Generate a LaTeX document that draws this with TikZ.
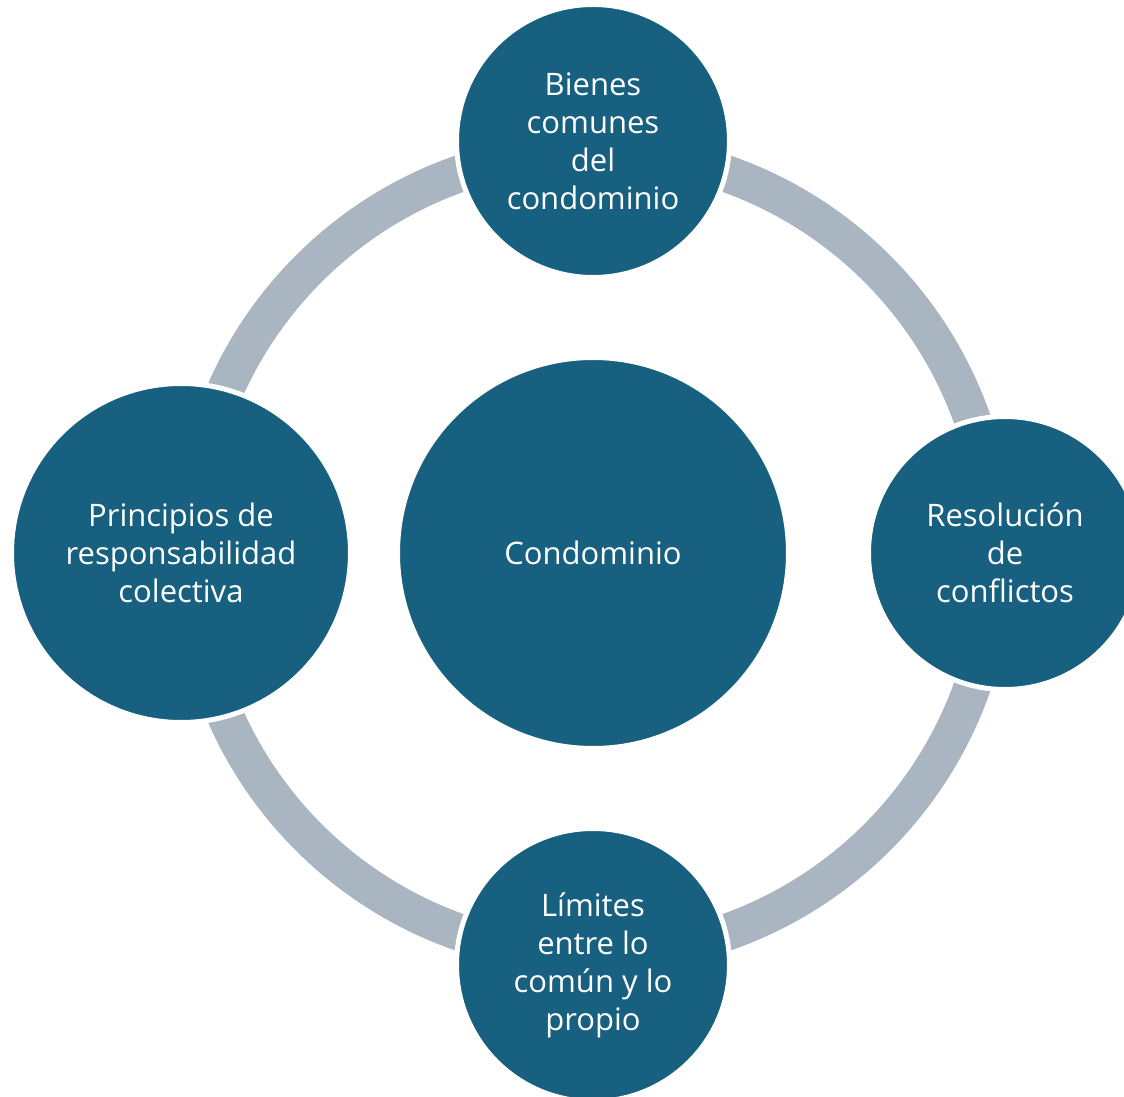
\documentclass[tikz,border=0pt]{standalone}
\usepackage{fontspec}
\setmainfont{Open Sans}
\usepackage{tikz}
\definecolor{condblue}{HTML}{17607F}
\definecolor{ringgray}{HTML}{A9B5C1}
\tikzstyle{topic} = [circle, fill=condblue, draw=white, line width=5pt, text=white, align=center, inner sep=0pt, font=\fontsize{31}{38}\selectfont]
\tikzstyle{ring} = [draw=ringgray, line width=37pt]

\begin{document}
\begin{tikzpicture}[node distance=412pt]
    \useasboundingbox (-593pt,553pt) rectangle (531pt,-544pt);
    \node[topic, minimum size=391pt] (condominio) at (0,0) {Condominio};

    \draw[ring] (condominio.center) circle (402pt);

    \node[topic, minimum size=273pt, above of=condominio] (bienes) {Bienes\\comunes\\del\\condominio};
    \node[topic, minimum size=273pt, right of=condominio] (resolucion) {Resolución\\de\\conflictos};
    \node[topic, minimum size=273pt, below of=condominio] (limites) {Límites\\entre lo\\común y lo\\propio};
    \node[topic, minimum size=339pt, left of=condominio] (principios) {Principios de\\responsabilidad\\colectiva};

\end{tikzpicture}
\end{document}
